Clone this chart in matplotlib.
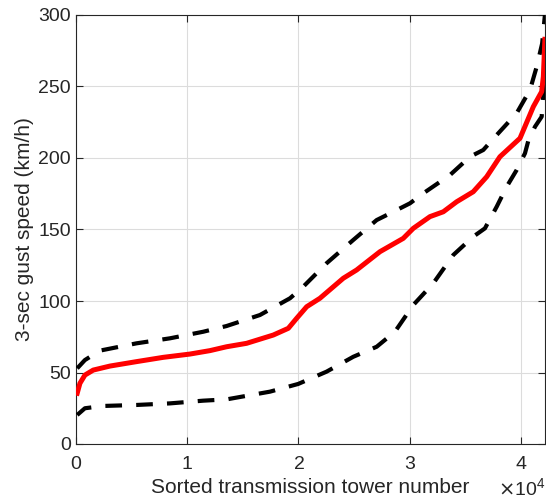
import matplotlib
matplotlib.use("Agg")
import matplotlib.pyplot as plt
from matplotlib.ticker import ScalarFormatter

# Tower index (sorted) and speeds
mean_x = [117, 360, 810, 1560, 3060, 5450, 7850, 10250, 12050, 13540, 15340,
          17740, 19090, 19840, 20740, 21930, 24030, 25230, 27330, 29420, 30320,
          31820, 33020, 34220, 35710, 36920, 38110, 39910, 41110, 41860, 42010, 42150]
mean_y = [35.5, 42.4, 48.2, 51.7, 54.5, 57.6, 60.6, 62.9, 65.3, 68, 70.4,
          76.2, 80.9, 87.9, 96, 101.9, 115.9, 121.7, 134.5, 143.8, 150.8,
          159, 162.4, 169.4, 176.4, 186.9, 200.9, 213.8, 235.9, 246.4, 256.9, 283]

upper_x = [117, 810, 2160, 5450, 8450, 11440, 13540, 16540, 19240, 20430,
           22530, 24930, 27030, 28830, 30020, 31220, 33620, 35420, 36610, 37820,
           39610, 40810, 41410, 41900, 42150]
upper_y = [52.9, 58.7, 65.3, 70.4, 73.9, 78.5, 82.5, 90.2, 101.9, 110,
           126.4, 142.7, 156.6, 163.6, 168.3, 175.3, 188.1, 200.9, 205.6, 216.1,
           231.3, 247.6, 263.8, 280, 300]

lower_x = [117, 810, 2450, 5450, 8450, 11440, 13540, 17440, 19980, 22530,
           24930, 27030, 28670, 30320, 32120, 33920, 35710, 36760, 37820, 38710,
           39610, 40360, 40660, 41260, 41860, 42150]
lower_y = [20.3, 25, 26.6, 27.3, 28.4, 30.3, 31.2, 36.6, 42, 50.6,
           61, 68, 78.5, 97.2, 112.4, 132.2, 145, 150.8, 166, 179.9,
           191.6, 203.3, 212.1, 221.9, 228.9, 262]

xticks = [0, 10000, 20000, 30000, 40000]
yticks = [0, 50, 100, 150, 200, 250, 300]

plt.rcParams['font.family'] = ['Liberation Sans', 'DejaVu Sans']
fig = plt.figure(figsize=(5.46, 5.0), dpi=100)
ax = fig.add_axes([0.139, 0.112, 0.859, 0.858])

dash = (0, (4.0, 3.4))
ax.plot(upper_x, upper_y, color='black', lw=3.0, linestyle=dash, zorder=3)
ax.plot(lower_x, lower_y, color='black', lw=3.0, linestyle=dash, zorder=3)
ax.plot(mean_x, mean_y, color='red', lw=3.6, zorder=4, solid_joinstyle='round')

ax.set_xlim(0, 42150)
ax.set_ylim(0, 300)
ax.set_xticks(xticks)
ax.set_yticks(yticks)

fmt = ScalarFormatter(useMathText=True)
fmt.set_powerlimits((0, 0))
ax.xaxis.set_major_formatter(fmt)

ax.grid(True, color='#dcdcdc', linewidth=0.8)
ax.set_axisbelow(True)
for s in ax.spines.values():
    s.set_color('#262626')
    s.set_linewidth(0.8)
ax.tick_params(direction='in', top=True, right=True, length=5, width=0.8,
               colors='#262626', labelsize=14, labelcolor='#262626')
ax.tick_params(axis='x', pad=8.5)
ax.set_xlabel('Sorted transmission tower number', fontsize=15, color='#262626', labelpad=4)
ax.set_ylabel('3-sec gust speed (km/h)', fontsize=15, color='#262626', labelpad=3)
ax.xaxis.get_offset_text().set_fontsize(14)
ax.xaxis.get_offset_text().set_color('#262626')

fig.savefig('out.png', dpi=100)
